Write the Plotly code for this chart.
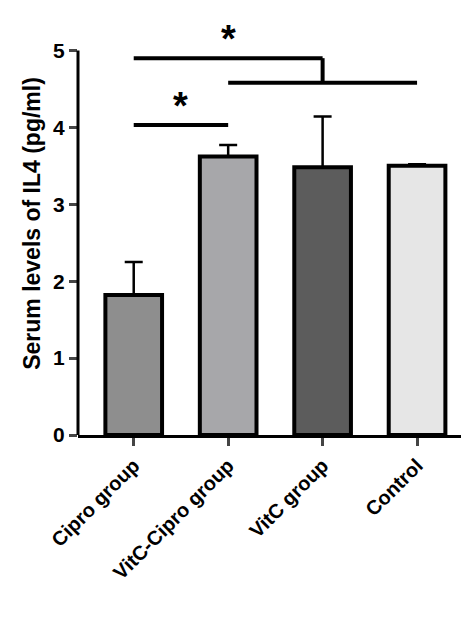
import plotly.graph_objects as go

groups = ["Cipro group", "VitC-Cipro group", "VitC group", "Control"]
means = [1.82, 3.62, 3.48, 3.50]
errors = [0.43, 0.15, 0.66, 0.02]
colors = ["#8e8e8e", "#a7a7aa", "#5c5c5c", "#e6e6e6"]
y_ticks = [0, 1, 2, 3, 4, 5]

fig = go.Figure()
fig.add_trace(go.Bar(
    x=list(range(len(groups))), y=means, width=0.6,
    marker=dict(color=colors, line=dict(color="black", width=4)),
    error_y=dict(type="data", array=errors, symmetric=False, arrayminus=[0] * 4,
                 color="black", thickness=2.5, width=9),
))

blk = dict(color="black", width=4)
# axis line only up to 5
fig.add_shape(type="line", xref="paper", yref="y", x0=0, x1=0, y0=0, y1=5, line=dict(color="black", width=3))
# significance brackets
fig.add_shape(type="line", x0=0, x1=1, y0=4.03, y1=4.03, line=blk)
fig.add_shape(type="line", x0=0, x1=2, y0=4.9, y1=4.9, line=blk)
fig.add_shape(type="line", x0=2, x1=2, y0=4.9, y1=4.58, line=blk)
fig.add_shape(type="line", x0=1, x1=3, y0=4.58, y1=4.58, line=blk)
fig.add_annotation(x=0.5, y=3.98, text="<b>*</b>", showarrow=False, yanchor="bottom", font=dict(size=38, color="black"))
fig.add_annotation(x=1.0, y=4.85, text="<b>*</b>", showarrow=False, yanchor="bottom", font=dict(size=38, color="black"))

fig.update_layout(
    width=469, height=631, plot_bgcolor="white", paper_bgcolor="white",
    margin=dict(l=70, r=8, t=4, b=204), showlegend=False,
    font=dict(family="Liberation Sans, Arial", color="black"),
    xaxis=dict(range=[-0.59, 3.55], tickmode="array", tickvals=list(range(4)),
               ticktext=[f"<b>{g}</b>" for g in groups], tickangle=-45,
               tickfont=dict(size=20), showline=True, linecolor="black", linewidth=3,
               ticks="outside", ticklen=8, tickwidth=3, showgrid=False, zeroline=False),
    yaxis=dict(range=[0, 5.5], tickvals=y_ticks, ticktext=[f"<b>{t}</b>" for t in y_ticks],
               tickfont=dict(size=21), showline=False, ticks="outside", ticklen=8, tickwidth=3,
               showgrid=False, zeroline=False,
               title=dict(text="<b>Serum levels of IL4 (pg/ml)</b>", font=dict(size=23), standoff=6)),
)

fig.write_html("out.html")
